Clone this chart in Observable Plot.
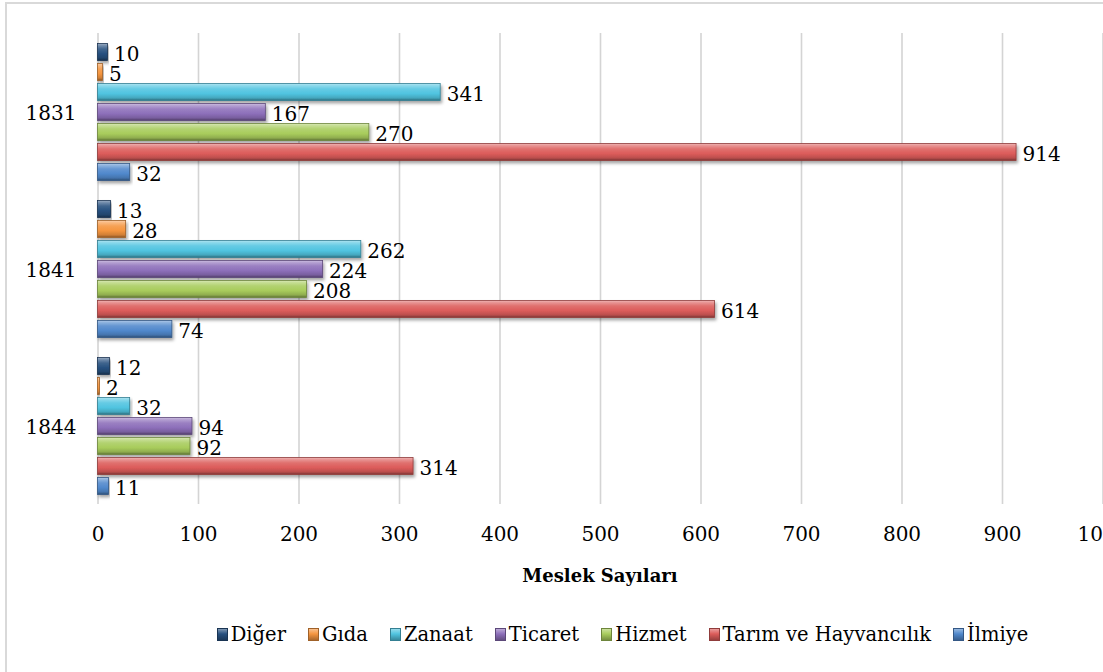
<!DOCTYPE html>
<html><head><meta charset="utf-8">
<script src="https://cdn.jsdelivr.net/npm/d3@7"></script>
<script src="https://cdn.jsdelivr.net/npm/@observablehq/plot@0.6"></script>
<style>
body{margin:0;background:#fff;width:1103px;height:672px;overflow:hidden;position:relative;font-family:"DejaVu Serif",serif;}
#frame{position:absolute;left:5px;top:2px;width:1300px;height:900px;border:2px solid #d9d9d9;pointer-events:none;z-index:3}
#chart{position:absolute;left:0;top:0}
#xtitle{position:absolute;left:97.5px;width:1005px;top:565px;text-align:center;font-weight:bold;font-size:18px;color:#000}
#legend{position:absolute;top:623px;left:0;width:1245px;display:flex;justify-content:center;align-items:center;gap:22px;font-size:19.5px;color:#000}
#legend .item{display:flex;align-items:center;gap:3px;white-space:nowrap}
#legend .sw{width:11px;height:13px;box-sizing:border-box}
</style></head>
<body>
<div id="frame"></div>
<div id="chart"></div>
<div id="xtitle">Meslek Sayıları</div>
<div id="legend"></div>
<script>
// ---- data ----
const years = ["1831", "1841", "1844"];
const categories = ["Diğer", "Gıda", "Zanaat", "Ticaret", "Hizmet", "Tarım ve Hayvancılık", "İlmiye"];
const diger   = [10, 13, 12];
const gida    = [5, 28, 2];
const zanaat  = [341, 262, 32];
const ticaret = [167, 224, 94];
const hizmet  = [270, 208, 92];
const tarim   = [914, 614, 314];
const ilmiye  = [32, 74, 11];
const xTicks = [0, 100, 200, 300, 400, 500, 600, 700, 800, 900, 1000];
const baseColors = ["#27507f", "#f5953f", "#50c4e0", "#8d6fba", "#a8cc5c", "#dc5c5a", "#5088cc"];

const series = [diger, gida, zanaat, ticaret, hizmet, tarim, ilmiye];
const rows = [];
categories.forEach((c, i) => years.forEach((y, j) => rows.push({category: c, year: y, value: series[i][j]})));

const mixW = (c, t) => d3.interpolateRgb(c, "#ffffff")(t);
const mixB = (c, t) => d3.interpolateRgb(c, "#000000")(t);
const darkColors = baseColors.map(c => mixB(c, 0.35));

const svg = Plot.plot({
  width: 1103, height: 560,
  marginLeft: 97.5, marginRight: 0.5, marginTop: 32.5, marginBottom: 56.5,
  style: {background: "transparent", fontFamily: "DejaVu Serif", fontSize: "20px", color: "#000"},
  x: {domain: [0, 1000], axis: null},
  y: {domain: categories, paddingInner: 0.15, paddingOuter: 0.5, axis: null},
  fy: {domain: years, padding: 0, axis: null},
  marks: [
    Plot.gridX(xTicks, {stroke: "#d4d4d4", strokeOpacity: 1, strokeWidth: 1.6}),
    ...categories.map((c, i) => Plot.barX(rows.filter(r => r.category === c), {
      x: "value", y: "category", fy: "year",
      fill: `url(#grad${i})`, stroke: darkColors[i], strokeWidth: 0.8
    })),
    Plot.text(rows, {x: "value", y: "category", fy: "year", text: d => String(d.value),
      textAnchor: "start", dx: 6, dy: 2, fontSize: 20, fill: "#000"}),
    Plot.axisX(xTicks, {tickSize: 0, tickPadding: 22.5, fontSize: 20, label: null, fill: "#000", tickFormat: d => String(d)}),
    Plot.axisFy({anchor: "left", tickSize: 0, tickPadding: 21.5, fontSize: 20, label: null, dy: 2, fill: "#000"})
  ]
});

// gradients and shadow
const ns = "http://www.w3.org/2000/svg";
const defs = document.createElementNS(ns, "defs");
let html = `<filter id="shadow" x="-5%" y="-30%" width="115%" height="190%"><feDropShadow dx="1.5" dy="2.5" stdDeviation="1.6" flood-color="#000" flood-opacity="0.35"/></filter>`;
baseColors.forEach((c, i) => {
  html += `<linearGradient id="grad${i}" x1="0" y1="0" x2="0" y2="1">
    <stop offset="0" stop-color="${mixW(c, 0.55)}"/>
    <stop offset="0.12" stop-color="${mixW(c, 0.35)}"/>
    <stop offset="0.32" stop-color="${mixW(c, 0.12)}"/>
    <stop offset="0.6" stop-color="${c}"/>
    <stop offset="0.85" stop-color="${mixB(c, 0.15)}"/>
    <stop offset="1" stop-color="${mixB(c, 0.45)}"/>
  </linearGradient>`;
});
defs.innerHTML = html;
svg.insertBefore(defs, svg.firstChild);
d3.select(svg).selectAll('g[aria-label="bar"] rect').attr("filter", "url(#shadow)");
document.getElementById("chart").appendChild(svg);

// legend
const leg = document.getElementById("legend");
categories.forEach((c, i) => {
  const it = document.createElement("div"); it.className = "item";
  const sw = document.createElement("div"); sw.className = "sw";
  const b = baseColors[i];
  sw.style.background = `linear-gradient(to bottom, ${mixW(b,0.4)} 0%, ${b} 45%, ${mixB(b,0.3)} 100%)`;
  sw.style.border = `1px solid ${mixB(b,0.35)}`;
  const t = document.createElement("span"); t.textContent = c;
  it.appendChild(sw); it.appendChild(t); leg.appendChild(it);
});
</script>
</body></html>
